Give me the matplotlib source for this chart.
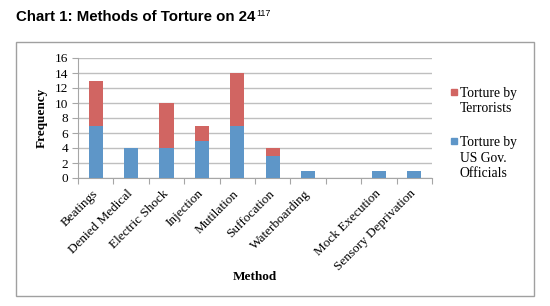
import matplotlib
matplotlib.use("Agg")
import matplotlib.pyplot as plt
from matplotlib.patches import Rectangle
import numpy as np

methods = ["Beatings", "Denied Medical", "Electric Shock", "Injection", "Mutilation",
           "Suffocation", "Waterboarding", "", "Mock Execution", "Sensory Deprivation"]
us_gov = [7, 4, 4, 5, 7, 3, 1, 0, 1, 1]
terrorists = [6, 0, 6, 2, 7, 1, 0, 0, 0, 0]
yticks = [0, 2, 4, 6, 8, 10, 12, 14, 16]

BLUE = "#5E96C8"
RED = "#D16562"
GRID = "#BFBFBF"
SERIF = ["Liberation Serif", "DejaVu Serif"]
SANS = ["Liberation Sans", "DejaVu Sans"]


def main() -> None:
    fig = plt.figure(figsize=(5.5, 3.06), dpi=100)
    fig.patch.set_facecolor("white")
    ax = fig.add_axes([78 / 550, 1 - 178 / 306, 354 / 550, 120 / 306])

    x = np.arange(len(methods))
    ax.bar(x, us_gov, width=0.4, color=BLUE, zorder=3)
    ax.bar(x, terrorists, width=0.4, bottom=us_gov, color=RED, zorder=3)

    ax.set_xlim(-0.5, len(methods) - 0.5)
    ax.set_ylim(0, 16)
    ax.set_yticks(yticks)
    ax.yaxis.grid(True, color=GRID, linewidth=1.0, zorder=0)
    for side in ("top", "right"):
        ax.spines[side].set_visible(False)
    for side in ("left", "bottom"):
        ax.spines[side].set_color("#A6A6A6")

    ax.set_xticks(np.arange(len(methods) + 1) - 0.5)
    ax.set_xticklabels([])
    ax.set_xticks(x, minor=True)
    ax.set_xticklabels(methods, minor=True, rotation=45, ha="right", va="center",
                       rotation_mode="anchor", family=SERIF, fontsize=9.5)
    ax.tick_params(axis="x", which="major", length=4, color="#A6A6A6", direction="out")
    ax.tick_params(axis="x", which="minor", length=0, pad=10)
    ax.tick_params(axis="y", length=4, color="#A6A6A6", labelsize=9.5, pad=3)
    for lbl in ax.get_yticklabels():
        lbl.set_family(SERIF)

    ax.set_ylabel("Frequency", family=SERIF, fontweight="bold", fontsize=9.5, labelpad=5)
    fig.text(255 / 550, 1 - 277 / 306, "Method", family=SERIF, fontweight="bold",
             fontsize=9.5, ha="center", va="center")

    # legend, drawn by hand to keep the Excel-like wrapping
    fig.patches.append(Rectangle((451 / 550, 1 - 95 / 306), 6 / 550, 6 / 306,
                                 transform=fig.transFigure, color=RED))
    fig.text(460 / 550, 1 - 87 / 306, "Torture by\nTerrorists", family=SERIF,
             fontsize=9.8, va="top", linespacing=1.25)
    fig.patches.append(Rectangle((451 / 550, 1 - 144 / 306), 6 / 550, 6 / 306,
                                 transform=fig.transFigure, color=BLUE))
    fig.text(460 / 550, 1 - 136 / 306, "Torture by\nUS Gov.\nOfficials", family=SERIF,
             fontsize=9.8, va="top", linespacing=1.25)

    # chart frame
    fig.patches.append(Rectangle((16 / 550, 1 - 296 / 306), 518 / 550, 254 / 306,
                                 transform=fig.transFigure, fill=False,
                                 edgecolor="#A0A0A0", linewidth=1.0))

    title = fig.text(16 / 550, 1 - 21 / 306, "Chart 1: Methods of Torture on 24",
                     family=SANS, fontweight="bold", fontsize=10.8, va="baseline")
    fig.canvas.draw()
    bb = title.get_window_extent()
    fig.text(bb.x1 / fig.bbox.width + 0.001, 1 - 16 / 306, "117",
             family=SANS, fontsize=6.5, va="baseline")

    fig.savefig("out.png", dpi=100, facecolor="white")


if __name__ == "__main__":
    main()
